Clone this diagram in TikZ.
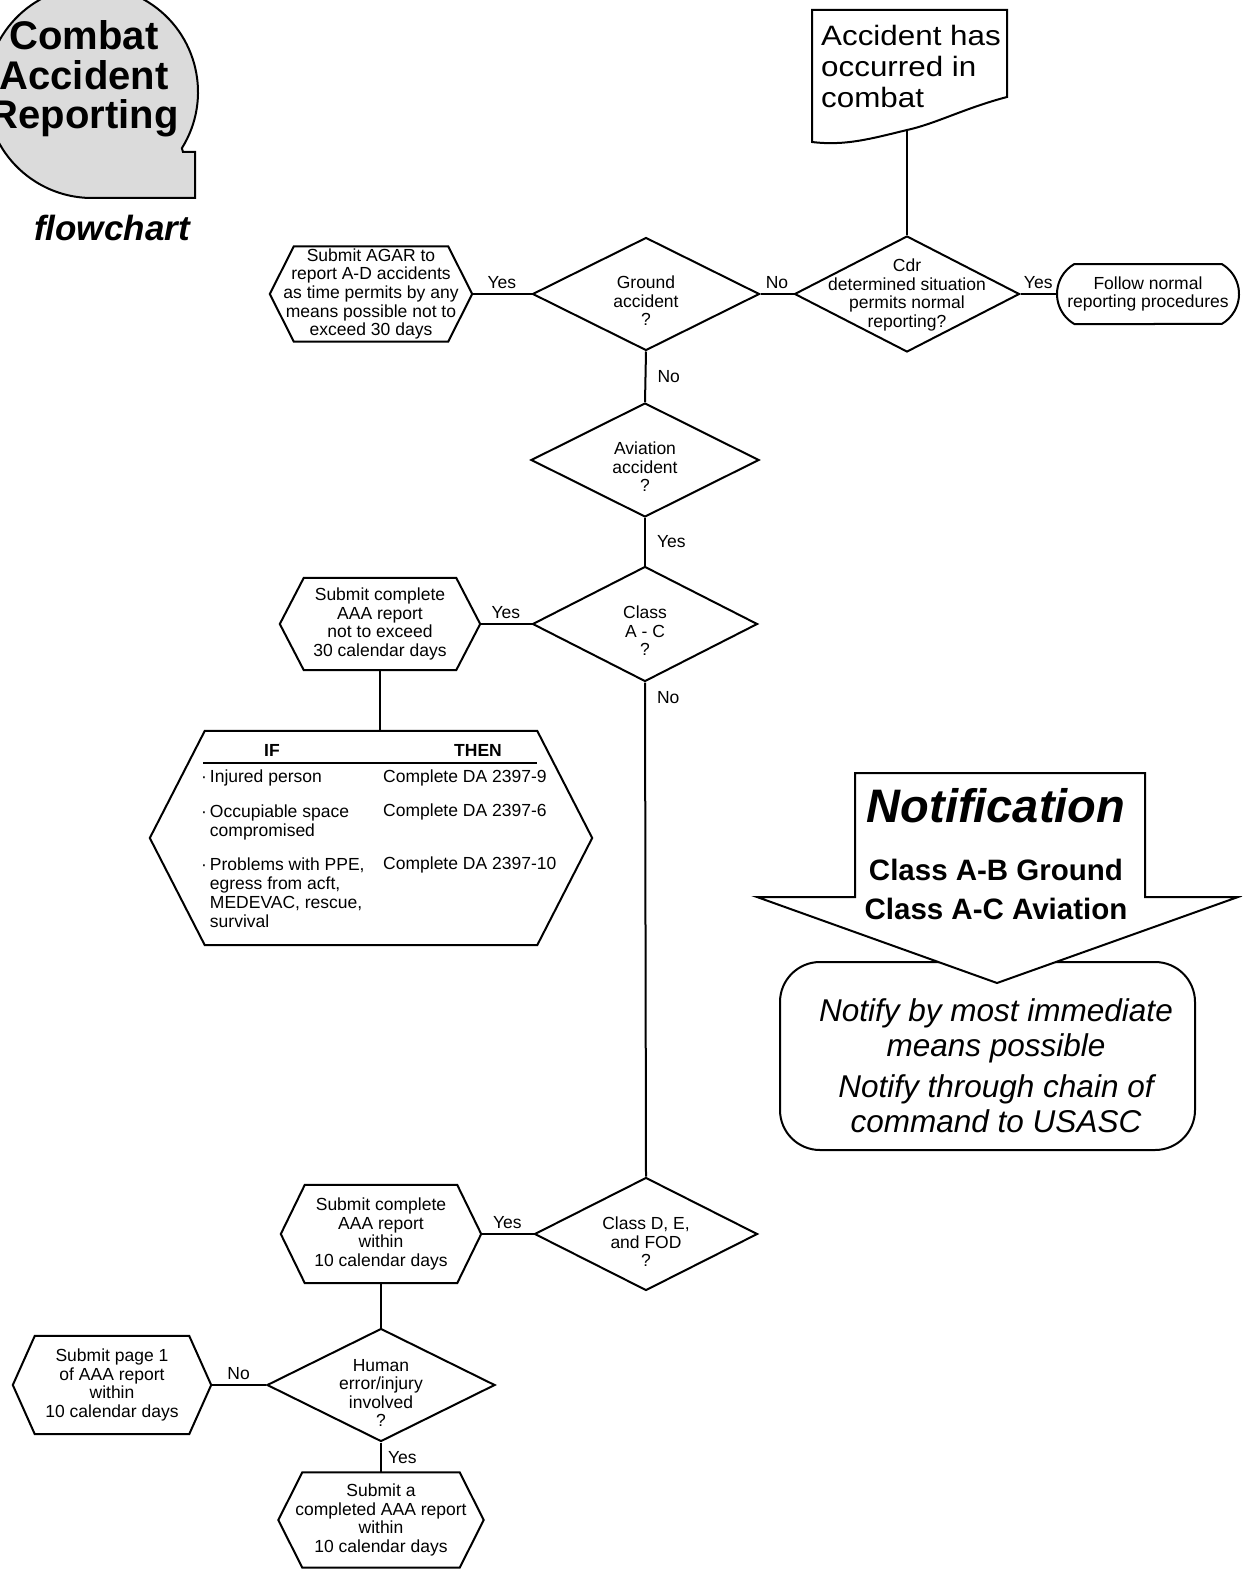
\documentclass[tikz,border=0pt]{standalone}
\usepackage{fontspec}
\setmainfont{Liberation Sans}
\newfontfamily\widefont[FakeStretch=1.12]{Liberation Sans}
\usetikzlibrary{shapes.geometric,shapes.misc,calc}
\tikzset{
  ln/.style={line width=2pt},
  txt/.style={font=\fontsize{17.5}{18.6}\selectfont, align=center, inner sep=0pt},
  lbl/.style={font=\fontsize{17.5}{18.6}\selectfont, inner sep=4pt},
  collbl/.style={lbl, right, xshift=7pt},
  tbl/.style={font=\fontsize{17.5}{19}\selectfont, align=left, inner sep=0pt, anchor=west},
  dia/.style={diamond, draw, line width=2pt, inner sep=0pt},
}
% name, cx, cy, width, height, slant, text
\newcommand\hexnode[7]{%
  \node[txt, minimum width=#4, minimum height=#5] (#1) at (#2,#3) {#7};
  \draw[ln] (#1.west) -- ($(#1.north west)+(#6,0)$) -- ($(#1.north east)+(-#6,0)$)
    -- (#1.east) -- ($(#1.south east)+(-#6,0)$) -- ($(#1.south west)+(#6,0)$) -- cycle;}
% name, cx, cy, width, height, text shift, text
\newcommand\dianode[7]{%
  \node[dia, minimum width=#4, minimum height=#5] (#1) at (#2,#3) {};
  \node[txt] (#1-t) at ($(#1.center)+(0,#6)$) {#7};}

\begin{document}
\begin{tikzpicture}[x=1pt,y=-1pt]
\useasboundingbox (0,0) rectangle (1242,1573);
\fill[white] (0,0) rectangle (1242,1573);
\clip (0,0) rectangle (1242,1573);

% ---------- logo ----------
\draw[ln, fill=black!14] (92,92) ++(-32:106pt) arc[start angle=-32, end angle=270, radius=106pt]
  -- (195,198) -- (195,152) -- (183,152) -- cycle;
\node[font=\fontsize{40}{39.5}\selectfont\bfseries, align=center, inner sep=0] (logo) at (84,79) {Combat\\Accident\\Reporting};
\node[font=\fontsize{35}{36}\selectfont\bfseries\itshape, inner sep=0] (flow) at (112,228) {flowchart};

% ---------- start document ----------
\draw[ln] (812,10) -- (1007,10) -- (1007,97) .. controls (965,108) and (935,124) .. (907,130)
  .. controls (870,139) and (845,146) .. (812,142) -- cycle;
\node[font=\widefont\fontsize{28}{31}\selectfont, align=left, anchor=west, inner sep=0] (doc) at (821,66) {Accident has\\occurred in\\combat};
\coordinate (docb) at (907,130);

% ---------- decisions and boxes ----------
\dianode{cdr}{907}{294}{225}{116}{1}{Cdr\\determined situation\\permits normal\\reporting?}
\node[draw, ln, rounded rectangle, rounded rectangle arc length=120, minimum width=182, minimum height=60, txt] (follow) at (1148,294) {Follow normal\\reporting procedures};
\dianode{gnd}{646}{294}{227}{113}{7}{Ground\\accident\\?}
\hexnode{agar}{371}{294}{202}{95}{24}{Submit AGAR to\\report A-D accidents\\as time permits by any\\means possible not to\\exceed 30 days}
\dianode{avi}{645}{460}{228}{114}{7}{Aviation\\accident\\?}
\dianode{clac}{645}{624}{225}{115}{7}{Class\\A - C\\?}
\hexnode{sub30}{380}{624}{200}{92}{24}{Submit complete\\AAA report\\not to exceed\\30 calendar days}
\hexnode{ifthen}{371}{838}{442}{214}{55}{}
\dianode{cld}{646}{1234}{223}{113}{8}{Class D, E,\\and FOD\\?}
\hexnode{sub10}{381}{1234}{200}{98}{24}{Submit complete\\AAA report\\within\\10 calendar days}
\dianode{human}{381}{1385}{228}{113}{8}{Human\\error/injury\\involved\\?}
\hexnode{page1}{112}{1385}{198}{98}{22}{Submit page 1\\of AAA report\\within\\10 calendar days}
\hexnode{compl}{381}{1520}{205}{95}{24}{Submit a\\completed AAA report\\within\\10 calendar days}

% ---------- IF / THEN table ----------
\node[tbl, font=\fontsize{17.5}{19}\selectfont\bfseries, anchor=center] (ifh) at (272,750) {IF};
\node[tbl, font=\fontsize{17.5}{19}\selectfont\bfseries, anchor=center] (thenh) at (478,750) {THEN};
\draw[line width=1.5pt] (203,763) -- (537,763);
\node[tbl] (r1a) at (201,778) {·\,Injured person};
\node[tbl] (r2a) at (201,822) {·\,Occupiable space\\\phantom{·\,}compromised};
\node[tbl] (r3a) at (201,893) {·\,Problems with PPE,\\\phantom{·\,}egress from acft,\\\phantom{·\,}MEDEVAC, rescue,\\\phantom{·\,}survival};
\node[tbl] (r1b) at (383,778) {Complete DA 2397-9};
\node[tbl] (r2b) at (383,812) {Complete DA 2397-6};
\node[tbl] (r3b) at (383,865) {Complete DA 2397-10};

% ---------- connectors ----------
\draw[ln] (docb) -- (cdr.north);
\draw[ln] (cdr.east) -- node[lbl, above]{Yes} (follow.west);
\draw[ln] (gnd.east) -- node[lbl, above]{No} (cdr.west);
\draw[ln] (gnd.west) -- node[lbl, above]{Yes} (agar.east);
\draw[ln] (gnd.south) -- node[collbl]{No} (avi.north);
\draw[ln] (avi.south) -- node[collbl]{Yes} (clac.north);
\draw[ln] (clac.west) -- node[lbl, above]{Yes} (sub30.east);
\draw[ln] (sub30.south) -- (sub30.south |- ifthen.north);
\draw[ln] (clac.south) -- node[collbl, pos=0.03]{No} (cld.north);
\draw[ln] (cld.west) -- node[lbl, above]{Yes} (sub10.east);
\draw[ln] (sub10.south) -- (human.north);
\draw[ln] (human.west) -- node[lbl, above]{No} (page1.east);
\draw[ln] (human.south) -- node[lbl, right, xshift=2pt]{Yes} (compl.north);

% ---------- notification ----------
\node[draw, ln, rounded corners=40pt, minimum width=415, minimum height=188] (nbox) at (987.5,1056) {};
\node[font=\fontsize{31.5}{35}\selectfont\itshape, align=center, inner sep=0] (ntxt) at (996,1066) {Notify by most immediate\\means possible\\[6pt]Notify through chain of\\command to USASC};
\draw[ln, fill=white] (855,773) -- (1145,773) -- (1145,897) -- (1238,897) -- (997,983) -- (757,897) -- (855,897) -- cycle;
\node[font=\fontsize{47}{50}\selectfont\bfseries\itshape, inner sep=0] (ntitle) at (996,806) {Notification};
\node[font=\fontsize{29.5}{39}\selectfont\bfseries, align=center, inner sep=0] (nclass) at (996,889) {Class A-B Ground\\Class A-C Aviation};
\end{tikzpicture}
\end{document}
